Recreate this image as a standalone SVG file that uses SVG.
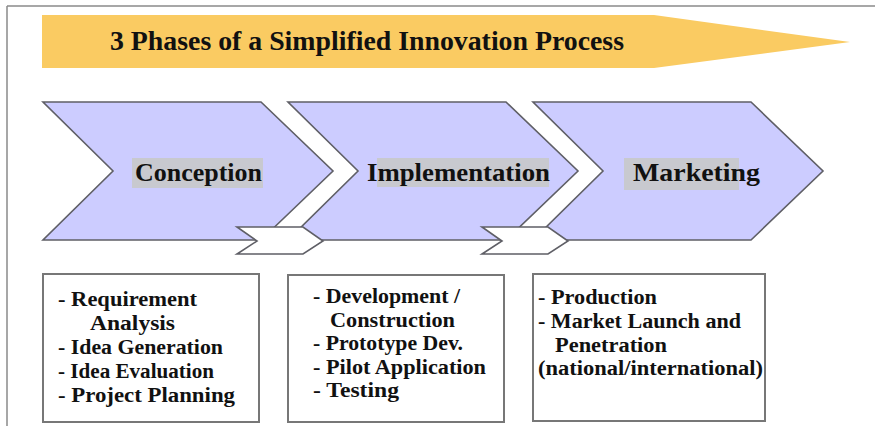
<svg xmlns="http://www.w3.org/2000/svg" width="875" height="426" viewBox="0 0 875 426">
<style>
.frame{stroke:#8a8a8a;stroke-width:1.5;fill:none}
.chev{fill:#CCCCFF;stroke:#5f5f66;stroke-width:1.6;stroke-linejoin:miter}
.small{fill:#ffffff;stroke:#5f5f66;stroke-width:1.6}
.box{fill:#ffffff;stroke:#777777;stroke-width:2}
.hl{fill:#C8C9CF}
text{font-family:'Liberation Serif','DejaVu Serif',serif;font-weight:bold;fill:#111111}
.lbl{font-size:26px}
.item{font-size:20px}
</style>
<rect width="875" height="426" fill="#ffffff"/>
<g id="frame">
<line class="frame" x1="7" y1="6" x2="875" y2="6"/>
<line class="frame" x1="7" y1="6" x2="7" y2="426"/>
</g>
<g id="title">
<polygon points="42,15 654,15 850,42 654,68 42,68" fill="#FACB62"/>
<text x="110" y="50" font-size="27" textLength="514" lengthAdjust="spacingAndGlyphs">3 Phases of a Simplified Innovation Process</text>
</g>
<g id="conception">
<polygon class="chev" points="43,102 261,102 333,171 261,240 43,240 113,171"/>
<rect class="hl" x="132" y="158" width="131" height="30"/>
<text class="lbl" x="135" y="181" textLength="127" lengthAdjust="spacingAndGlyphs">Conception</text>
</g>
<g id="implementation">
<polygon class="chev" points="288,102 506,102 578,171 506,240 288,240 358,171"/>
<rect class="hl" x="377" y="158" width="172" height="29"/>
<text class="lbl" x="367" y="181" textLength="183" lengthAdjust="spacingAndGlyphs">Implementation</text>
</g>
<g id="marketing">
<polygon class="chev" points="533,102 751,102 823,171 751,240 533,240 603,171"/>
<rect class="hl" x="624" y="158" width="115" height="32"/>
<text class="lbl" x="633" y="181" textLength="127" lengthAdjust="spacingAndGlyphs">Marketing</text>
</g>
<g id="connectors">
<polygon class="small" points="237,227 303,227 323,241 303,254 237,254 257,241"/>
<polygon class="small" points="482,227 548,227 568,241 548,254 482,254 502,241"/>
</g>
<g id="box-conception">
<rect class="box" x="43" y="274" width="216" height="148"/>
<text class="item" x="58" y="306" textLength="139" lengthAdjust="spacingAndGlyphs">- Requirement</text>
<text class="item" x="90" y="330" textLength="85" lengthAdjust="spacingAndGlyphs">Analysis</text>
<text class="item" x="58" y="354" textLength="165" lengthAdjust="spacingAndGlyphs">- Idea Generation</text>
<text class="item" x="58" y="378" textLength="156" lengthAdjust="spacingAndGlyphs">- Idea Evaluation</text>
<text class="item" x="58" y="402" textLength="177" lengthAdjust="spacingAndGlyphs">- Project Planning</text>
</g>
<g id="box-implementation">
<rect class="box" x="288" y="275" width="216" height="147"/>
<text class="item" x="313" y="303" textLength="147" lengthAdjust="spacingAndGlyphs">- Development /</text>
<text class="item" x="330" y="327" textLength="125" lengthAdjust="spacingAndGlyphs">Construction</text>
<text class="item" x="313" y="350" textLength="150" lengthAdjust="spacingAndGlyphs">- Prototype Dev.</text>
<text class="item" x="313" y="374" textLength="173" lengthAdjust="spacingAndGlyphs">- Pilot Application</text>
<text class="item" x="313" y="397" textLength="86" lengthAdjust="spacingAndGlyphs">- Testing</text>
</g>
<g id="box-marketing">
<rect class="box" x="533" y="274" width="232" height="147"/>
<text class="item" x="538" y="304" textLength="119" lengthAdjust="spacingAndGlyphs">- Production</text>
<text class="item" x="538" y="328" textLength="203" lengthAdjust="spacingAndGlyphs">- Market Launch and</text>
<text class="item" x="555" y="352" textLength="112" lengthAdjust="spacingAndGlyphs">Penetration</text>
<text class="item" x="538" y="375" textLength="225" lengthAdjust="spacingAndGlyphs">(national/international)</text>
</g>
</svg>
